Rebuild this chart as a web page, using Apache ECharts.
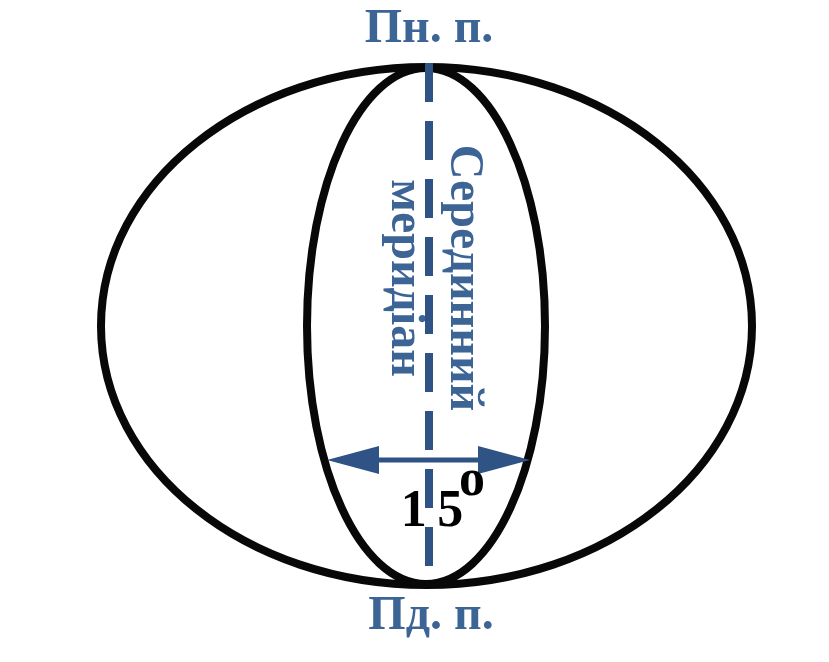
<!DOCTYPE html>
<html>
<head>
<meta charset="utf-8">
<script src="https://cdn.jsdelivr.net/npm/echarts@6/dist/echarts.min.js"></script>
<style>
  html, body {margin: 0; padding: 0; background: #fff;}
  #tu1 {width: 829px; height: 662px;}
</style>
</head>
<body>
<div id="tu1"></div>
<script>
// diagram units = page pixels (x: 0..829, y: 0..662 going down)
var ellipses = [
    [426.5, 326, 325.5, 259],   // Земля: cx, cy, rx, ry
    [426, 326, 119, 258]        // зона 15°
];
var meridian = [[429, 63], [429, 567]];
var arrow = [[327, 460], [530, 460]];
var labels = [
    ['Пн. п.', 429, 29.5],
    ['Пд. п.', 431, 617]
];
var vlabels = [
    ['Серединний', 463, 278],
    ['меридіан', 404, 278]
];
var degreeNum = [['1\u20095', 432, 513]];
var degreeSup = [['o', 472, 482]];

var blue = '#3c6596';
var dark = '#2f5384';

var myChart1 = echarts.init(document.getElementById('tu1'));

// text rows: [text, x, y]; the string is taken from the array, the position goes through the axes
function textSeries(rows, font, color, rot) {
    return {
        type: 'custom',
        data: rows.map(function (r) { return [r[1], r[2]]; }),
        renderItem: function (params, api) {
            var p = api.coord([api.value(0), api.value(1)]);
            return {
                type: 'text',
                x: p[0],
                y: p[1],
                rotation: rot,
                style: {
                    text: rows[params.dataIndex][0],
                    font: font,
                    fill: color,
                    align: 'center',
                    verticalAlign: 'middle'
                }
            };
        }
    };
}

var serif = '"Liberation Serif", "DejaVu Serif", serif';

var option1 = {
    animation: false,
    grid: {left: 0, right: 0, top: 0, bottom: 0},
    xAxis: {type: 'value', min: 0, max: 829, show: false},
    yAxis: {type: 'value', min: 0, max: 662, inverse: true, show: false},
    series: [
        {
            type: 'custom',
            data: ellipses,
            renderItem: function (params, api) {
                var c = api.coord([api.value(0), api.value(1)]);
                var s = api.size([api.value(2), api.value(3)]);
                return {
                    type: 'ellipse',
                    shape: {cx: c[0], cy: c[1], rx: s[0], ry: s[1]},
                    style: {fill: 'none', stroke: '#080808', lineWidth: 8}
                };
            }
        },
        {
            type: 'line',
            data: meridian,
            symbol: 'none',
            lineStyle: {color: dark, width: 8, type: [39, 19], cap: 'butt'}
        },
        {
            type: 'custom',
            data: [[arrow[0][0], arrow[1][0], arrow[0][1]]],
            renderItem: function (params, api) {
                var a = api.coord([api.value(0), api.value(2)]);
                var b = api.coord([api.value(1), api.value(2)]);
                var hl = 52, hw = 14;
                return {
                    type: 'group',
                    children: [
                        {
                            type: 'line',
                            shape: {x1: a[0] + 10, y1: a[1], x2: b[0] - 10, y2: b[1]},
                            style: {stroke: dark, lineWidth: 5}
                        },
                        {
                            type: 'polygon',
                            shape: {points: [[a[0], a[1]], [a[0] + hl, a[1] - hw], [a[0] + hl, a[1] + hw]]},
                            style: {fill: dark}
                        },
                        {
                            type: 'polygon',
                            shape: {points: [[b[0], b[1]], [b[0] - hl, b[1] - hw], [b[0] - hl, b[1] + hw]]},
                            style: {fill: dark}
                        }
                    ]
                };
            }
        },
        textSeries(labels, 'bold 48px ' + serif, blue, 0),
        textSeries(vlabels, 'bold 48px ' + serif, blue, -Math.PI / 2),
        textSeries(degreeNum, 'bold 52px ' + serif, '#000', 0),
        textSeries(degreeSup, 'bold 52px ' + serif, '#000', 0)
    ]
};
myChart1.setOption(option1);
</script>
</body>
</html>
